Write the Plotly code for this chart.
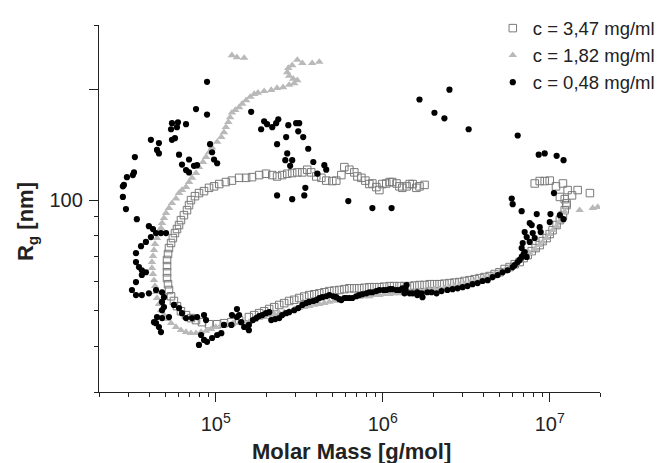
import plotly.graph_objects as go

# ---------------- data ----------------
# c = 3,47 mg/ml  (open squares)
sq_mass = [1.26e7, 1.23e7, 1.20e7, 1.15e7, 1.10e7, 1.04e7, 1.00e7, 9.59e6, 9.08e6, 8.71e6,
           8.24e6, 7.80e6, 7.38e6, 6.98e6, 6.61e6, 6.17e6, 5.75e6, 5.37e6, 5.00e6, 4.68e6,
           4.37e6, 4.07e6, 3.80e6, 3.31e6, 2.88e6, 2.51e6, 2.19e6, 1.91e6, 1.66e6, 1.45e6,
           1.26e6, 1.10e6, 9.55e5, 8.32e5, 7.24e5, 6.31e5, 5.50e5, 4.79e5, 4.17e5, 3.63e5,
           3.16e5, 2.75e5, 2.40e5, 2.09e5, 1.82e5, 1.58e5, 1.38e5, 1.24e5, 1.12e5, 1.02e5,
           9.12e4, 8.28e4, 7.62e4, 7.11e4, 6.64e4, 6.19e4, 5.86e4, 5.62e4, 5.40e4, 5.25e4,
           5.18e4, 5.11e4, 5.11e4, 5.11e4, 5.11e4, 5.18e4, 5.25e4, 5.40e4, 5.54e4, 5.70e4,
           5.86e4, 6.03e4, 6.19e4, 6.45e4, 6.73e4, 6.92e4, 7.11e4, 7.51e4, 7.94e4, 8.51e4,
           9.12e4, 9.77e4, 1.05e5, 1.15e5, 1.25e5, 1.38e5, 1.52e5, 1.65e5, 1.82e5, 2.00e5,
           2.18e5, 2.33e5, 2.50e5, 2.68e5, 2.87e5, 3.08e5, 3.30e5, 3.53e5, 3.73e5, 4.00e5,
           4.29e5, 4.59e5, 4.99e5, 5.27e5, 5.65e5, 5.89e5, 6.31e5, 6.76e5, 7.05e5, 7.45e5,
           7.87e5, 8.32e5, 8.67e5, 9.16e5, 9.55e5, 9.95e5, 1.05e6, 1.10e6, 1.14e6, 1.21e6,
           1.26e6, 1.31e6, 1.39e6, 1.45e6, 1.51e6, 1.59e6, 1.66e6, 1.78e6,
           1.70e5, 1.95e5, 2.24e5, 2.57e5, 2.95e5, 3.39e5, 3.89e5, 4.47e5, 5.13e5, 5.89e5,
           6.76e5, 7.76e5, 8.91e5, 1.02e6, 1.17e6, 1.35e6, 1.55e6, 1.78e6, 2.04e6, 2.34e6,
           2.69e6, 3.09e6, 3.55e6,
           8.13e6, 8.71e6, 9.33e6, 1.00e7, 1.09e7, 1.20e7, 1.28e7, 1.36e7, 1.47e7, 1.74e7,
           1.15e7, 1.23e7, 1.26e7]
sq_rg = [96.9, 93.9, 91.0, 88.2, 85.5, 82.8, 80.8, 78.8, 77.3, 75.4,
         74.0, 72.6, 70.8, 69.5, 67.8, 66.9, 65.7, 64.9, 63.6, 62.9,
         62.1, 61.7, 61.3, 60.5, 59.8, 59.4, 59.0, 59.0, 58.7, 58.3,
         58.3, 58.3, 57.9, 57.9, 57.5, 57.5, 56.9, 56.5, 55.7, 55.1,
         54.1, 53.1, 51.8, 50.5, 49.2, 48.0, 47.1, 46.5, 46.2, 45.9,
         45.9, 46.5, 47.1, 47.7, 48.6, 49.8, 51.4, 53.1, 54.7, 56.9,
         59.0, 61.3, 63.6, 66.1, 68.7, 71.3, 74.0, 76.4, 78.8, 81.3,
         83.4, 85.5, 88.2, 91.0, 93.9, 96.9, 100.0, 102.5, 104.5, 105.8,
         108.0, 109.0, 110.6, 112.0, 113.0, 115.0, 115.0, 115.5, 117.0, 118.0,
         117.0, 116.0, 117.0, 118.0, 118.5, 119.0, 119.0, 121.0, 119.0, 116.0,
         115.0, 113.0, 112.7, 113.0, 117.0, 123.0, 121.0, 119.0, 116.0, 115.0,
         113.0, 110.6, 111.0, 108.5, 106.5, 110.6, 111.0, 112.0, 112.0, 111.0,
         109.0, 108.0, 109.0, 110.6, 110.6, 108.0, 109.0, 110.0,
         48.6, 49.8, 51.1, 52.4, 53.5, 54.6, 55.4, 56.1, 56.7, 57.2,
         57.5, 57.7, 57.9, 58.1, 58.3, 58.3, 58.5, 58.7, 59.0, 59.2,
         59.6, 60.2, 60.9,
         111.0, 112.7, 112.7, 113.0, 109.0, 111.0, 106.5, 103.0, 106.5, 104.5,
         102.0, 100.6, 98.1]

# c = 1,82 mg/ml  (grey triangles)
tri_mass = [1.25e5, 1.34e5, 1.48e5, 3.08e5, 3.30e5, 3.78e5, 4.17e5, 2.87e5, 2.72e5, 2.68e5,
            2.75e5, 2.91e5, 3.08e5, 2.95e5, 2.75e5, 2.53e5, 2.33e5, 2.15e5, 1.95e5, 1.79e5,
            1.70e5, 1.61e5, 1.52e5, 1.44e5, 1.38e5, 1.31e5, 1.25e5, 1.22e5, 1.19e5, 1.15e5,
            1.12e5, 1.08e5, 1.02e5, 9.51e4, 9.12e4, 8.75e4, 8.39e4, 7.94e4, 7.62e4, 7.21e4,
            6.92e4, 6.64e4, 6.28e4, 6.03e4, 5.78e4, 5.47e4, 5.25e4, 5.04e4, 4.90e4, 4.77e4,
            4.70e4, 4.57e4, 4.45e4, 4.33e4, 4.27e4, 4.21e4, 4.15e4, 4.15e4, 4.21e4, 4.27e4,
            4.33e4, 4.39e4, 4.45e4, 4.57e4, 4.70e4, 4.90e4, 5.11e4, 5.40e4, 5.78e4, 6.19e4,
            6.64e4, 7.11e4, 7.62e4, 8.17e4, 8.75e4, 9.38e4, 1.00e5, 1.08e5, 1.17e5, 1.27e5,
            1.38e5, 1.48e5, 1.58e5, 1.70e5, 1.82e5, 1.95e5, 2.09e5, 2.24e5, 2.40e5, 2.57e5,
            2.75e5, 2.95e5, 3.16e5, 3.39e5, 3.63e5, 3.89e5, 4.17e5, 4.47e5, 4.79e5, 5.13e5,
            5.50e5, 5.89e5, 6.31e5, 6.76e5, 7.24e5, 7.76e5, 8.32e5, 8.91e5, 9.55e5, 1.02e6,
            1.10e6, 1.17e6, 1.26e6, 1.35e6, 1.45e6, 1.55e6, 1.66e6, 1.78e6, 1.91e6, 2.04e6,
            2.19e6, 2.34e6, 2.51e6, 2.69e6, 2.88e6, 3.09e6, 3.31e6, 3.55e6, 3.80e6, 4.07e6,
            4.37e6, 4.68e6, 5.00e6, 5.37e6, 5.75e6, 6.17e6, 6.61e6, 7.08e6, 7.59e6, 8.13e6,
            8.71e6, 9.08e6, 9.59e6, 1.00e7, 1.04e7, 1.10e7, 1.15e7, 1.18e7, 1.23e7,
            1.51e7, 1.81e7, 1.94e7]
tri_rg = [248, 245, 244, 241, 236, 236, 238, 233, 229, 223,
          218, 214, 212, 208, 206, 203, 202, 199.5, 198, 196,
          194.5, 191, 187, 183, 179, 176, 173, 168, 163, 158,
          153, 148.5, 144, 139, 135, 131, 127, 123, 118.5, 115,
          112, 108.5, 106.5, 104.5, 101, 98.1, 95.1, 92.2, 89.3, 86.6,
          83.9, 81.3, 78.8, 75.9, 73.1, 70.4, 67.8, 65.3, 62.9, 60.5,
          58.3, 56.1, 54.1, 52.1, 50.1, 48.6, 47.4, 46.2, 45.1, 44.2,
          43.7, 43.4, 43.4, 43.7, 44.0, 44.5, 45.1, 45.7, 45.9, 46.2,
          46.2, 46.2, 46.5, 47.1, 47.7, 48.0, 48.6, 48.9, 49.2, 49.5,
          49.8, 50.5, 50.8, 51.1, 51.4, 51.8, 52.1, 52.4, 52.8, 53.1,
          53.4, 53.7, 54.1, 54.4, 54.4, 54.7, 54.7, 55.1, 55.1, 55.4,
          55.4, 55.7, 55.7, 55.7, 56.1, 56.1, 56.5, 56.5, 56.9, 57.2,
          57.2, 57.5, 57.9, 58.3, 58.7, 59.0, 59.4, 60.2, 60.5, 61.3,
          61.7, 62.9, 63.6, 64.4, 65.7, 66.9, 68.7, 70.4, 71.7, 73.5,
          75.4, 76.9, 78.8, 80.8, 82.8, 84.9, 87.7, 89.9, 92.8,
          93.9, 95.1, 95.7]

# c = 0,48 mg/ml  (black dots)
dot_mass = [8.87e4, 7.62e4, 8.87e4, 1.63e5, 5.47e4, 5.94e4, 6.64e4, 5.40e4, 5.86e4, 4.09e4,
            4.57e4, 5.47e4, 5.70e4, 4.45e4, 4.57e4, 9.25e4, 9.51e4, 9.77e4, 1.02e5, 6.03e4,
            6.92e4, 3.28e4, 6.28e4, 6.64e4, 6.92e4, 7.41e4, 7.73e4, 2.94e4, 3.19e4, 3.24e4,
            2.78e4, 2.78e4, 2.90e4,
            1.95e5, 2.03e5, 1.87e5, 2.18e5, 2.30e5, 2.37e5, 2.72e5, 3.03e5, 3.16e5, 3.12e5,
            2.64e5, 3.34e5, 2.33e5, 3.58e5, 2.68e5, 2.61e5, 2.87e5, 2.79e5, 3.84e5, 4.47e5,
            4.59e5, 4.06e5, 3.44e5, 3.39e5, 2.33e5, 2.87e5,
            6.22e5, 8.67e5, 1.13e6, 1.66e6, 2.51e6, 2.04e6, 2.34e6, 3.27e6, 6.43e6, 8.59e6,
            9.33e6, 1.10e7, 1.21e7, 1.06e7, 5.92e6, 6.00e6,
            6.79e6, 8.36e6, 1.01e7, 1.00e7, 1.15e7, 1.21e7, 7.59e6, 7.80e6, 8.71e6, 8.83e6,
            7.08e6, 8.13e6, 7.91e6, 7.28e6, 7.59e6, 6.89e6, 6.79e6, 7.08e6, 7.28e6, 6.98e6,
            6.79e6, 6.61e6, 6.43e6, 6.17e6, 6.00e6, 5.60e6, 5.22e6, 4.88e6, 4.55e6, 4.25e6,
            3.96e6, 3.70e6, 3.45e6, 3.22e6, 3.01e6, 2.81e6, 2.62e6, 2.44e6, 2.25e6, 2.10e6,
            1.96e6, 1.85e6, 1.73e6, 1.71e6, 1.61e6, 1.61e6, 1.51e6, 1.45e6, 1.35e6, 1.37e6,
            1.39e6, 1.31e6, 1.26e6, 1.21e6, 1.14e6, 1.10e6, 1.05e6, 1.01e6, 9.55e5, 9.16e5,
            8.67e5, 8.32e5, 7.98e5, 7.55e5, 7.24e5, 6.95e5, 6.58e5, 6.31e5, 6.05e5, 5.89e5,
            5.65e5, 5.50e5, 5.27e5, 5.06e5, 4.79e5, 4.59e5, 4.35e5, 4.17e5, 4.00e5, 3.84e5,
            3.63e5, 3.48e5, 3.30e5, 3.12e5, 2.95e5, 2.75e5, 2.64e5, 2.50e5, 2.40e5, 2.27e5,
            2.15e5, 2.09e5, 2.00e5, 1.90e5, 1.82e5, 1.75e5, 1.67e5, 1.58e5, 1.58e5,
            2.82e4, 3.37e4, 3.98e4, 4.21e4, 4.39e4, 4.70e4, 5.04e4, 4.09e4, 3.82e4, 3.57e4,
            3.33e4, 3.33e4, 3.47e4, 3.61e4, 3.82e4, 3.61e4, 3.33e4, 3.15e4, 3.33e4, 3.61e4,
            3.98e4, 4.39e4, 4.77e4, 4.90e4, 4.77e4, 4.90e4, 4.77e4, 5.62e4, 6.03e4, 6.28e4,
            6.64e4, 7.21e4, 7.73e4, 8.51e4, 8.75e4, 4.45e4, 4.77e4, 4.39e4, 4.57e4, 4.70e4,
            5.25e4, 8.17e4, 8.51e4, 7.94e4, 8.87e4, 9.51e4, 1.02e5, 1.08e5, 1.12e5, 1.24e5,
            1.25e5, 1.34e5, 1.34e5, 1.42e5, 1.48e5, 1.38e5, 4.27e4]
dot_rg = [210, 177, 171, 174, 162, 163, 161, 156, 158, 146,
          143, 146, 147.5, 137, 134, 142, 135, 129, 126, 133,
          129, 131, 125, 120.7, 119, 124, 124.5, 115.5, 117, 119,
          109, 102, 94.5,
          164, 161, 156, 158, 162, 166, 160, 162, 162, 154,
          148.5, 148.5, 142, 138, 134, 128.5, 128.5, 124, 127, 124.5,
          121, 118, 108, 103, 103, 100.6,
          99.4, 95.1, 95.1, 188, 200, 173, 167, 156, 150, 133,
          134, 132, 128.5, 104.5, 101, 97.5,
          93.3, 91.6, 91.6, 87.1, 91.0, 88.7, 86.6, 85.5, 84.4, 81.8,
          81.8, 78.8, 81.3, 79.3, 76.9, 76.4, 74.0, 72.2, 70.0, 71.3,
          70.0, 68.7, 67.8, 66.5, 65.7, 64.4, 63.6, 62.5, 61.7, 60.5,
          60.2, 59.4, 59.0, 58.3, 57.9, 57.5, 57.2, 56.9, 56.5, 55.7,
          56.1, 56.1, 54.4, 55.7, 55.1, 56.1, 55.7, 55.7, 55.7, 56.9,
          58.7, 57.5, 56.9, 56.9, 57.2, 57.2, 56.9, 56.9, 56.9, 56.5,
          56.1, 56.1, 55.7, 55.4, 55.1, 54.7, 54.1, 54.1, 54.1, 54.1,
          53.4, 53.7, 54.4, 54.7, 55.1, 54.7, 54.4, 54.1, 53.4, 53.1,
          52.8, 52.4, 51.8, 50.8, 50.1, 49.5, 49.2, 48.6, 47.7, 47.4,
          47.1, 49.5, 49.2, 48.6, 48.3, 47.7, 47.1, 45.7, 44.2,
          110, 88.7, 84.9, 83.4, 81.3, 81.3, 81.3, 79.3, 76.9, 74.9,
          71.7, 67.8, 65.7, 64.4, 63.6, 62.5, 59.8, 56.9, 55.1, 55.1,
          55.7, 56.9, 56.1, 54.4, 52.8, 51.1, 50.1, 51.8, 50.8, 49.2,
          47.7, 47.7, 48.0, 48.6, 47.1, 48.0, 47.7, 46.2, 45.1, 43.7,
          48.0, 42.9, 41.6, 40.3, 41.1, 42.1, 42.9, 43.4, 45.7, 45.7,
          48.6, 50.5, 48.0, 46.5, 45.1, 48.6, 46.5]

series_names = ["c = 3,47 mg/ml", "c = 1,82 mg/ml", "c = 0,48 mg/ml"]

x_major = [1e5, 1e6, 1e7]
x_major_text = ["10<sup>5</sup>", "10<sup>6</sup>", "10<sup>7</sup>"]
x_minor = [2e4, 3e4, 4e4, 5e4, 6e4, 7e4, 8e4, 9e4,
           2e5, 3e5, 4e5, 5e5, 6e5, 7e5, 8e5, 9e5,
           2e6, 3e6, 4e6, 5e6, 6e6, 7e6, 8e6, 9e6, 2e7]
y_major = [100, 200]
y_major_text = ["100", ""]
y_minor = [30, 40, 50, 60, 70, 80, 90, 300]

FONT = "Arial, 'Liberation Sans', Helvetica, sans-serif"
INK = "#222222"

fig = go.Figure()
fig.add_trace(go.Scatter(
    x=sq_mass, y=sq_rg, mode="markers", name=series_names[0],
    marker=dict(symbol="square-open", size=7.5, color="#7a7a7a", line=dict(width=1))))
fig.add_trace(go.Scatter(
    x=tri_mass, y=tri_rg, mode="markers", name=series_names[1],
    marker=dict(symbol="triangle-up", size=7.5, color="#b9b9b9", line=dict(width=0))))
fig.add_trace(go.Scatter(
    x=dot_mass, y=dot_rg, mode="markers", name=series_names[2],
    marker=dict(symbol="circle", size=6.2, color="#000000", line=dict(width=0))))

axis_common = dict(
    showgrid=False, zeroline=False, showline=True, linecolor=INK, linewidth=1.3,
    ticks="outside", ticklen=9, tickwidth=1.3, tickcolor=INK,
    tickfont=dict(family=FONT, size=20, color=INK), mirror=False)

fig.update_xaxes(
    type="log", range=[4.30103, 7.30103], tickmode="array",
    tickvals=x_major, ticktext=x_major_text, ticklabelstandoff=5,
    minor=dict(tickmode="array", tickvals=x_minor, ticks="outside", ticklen=4,
               tickwidth=1.3, tickcolor=INK, showgrid=False),
    **axis_common)
fig.update_yaxes(
    type="log", range=[1.47712, 2.47712], tickmode="array",
    tickvals=y_major, ticktext=y_major_text, ticklabelstandoff=2,
    minor=dict(tickmode="array", tickvals=y_minor, ticks="outside", ticklen=4,
               tickwidth=1.3, tickcolor=INK, showgrid=False),
    **axis_common)

fig.update_layout(
    width=658, height=463,
    margin=dict(l=99, r=58, t=25, b=71, autoexpand=False),
    paper_bgcolor="white", plot_bgcolor="white",
    font=dict(family=FONT, color=INK),
    showlegend=True,
    legend=dict(x=0.786, xanchor="left", y=1.042, yanchor="top",
                font=dict(family=FONT, size=18.5, color=INK),
                bgcolor="rgba(0,0,0,0)", borderwidth=0, tracegroupgap=0),
    annotations=[
        dict(text="<b>Molar Mass [g/mol]</b>", xref="paper", yref="paper",
             x=0.5, y=0, xanchor="center", yanchor="middle", xshift=2, yshift=-59,
             showarrow=False, font=dict(family=FONT, size=22, color=INK)),
        dict(text="<b>R<sub>g</sub> [nm]</b>", xref="paper", yref="paper",
             x=0, y=0.463, xanchor="center", yanchor="middle", xshift=-72,
             textangle=-90, showarrow=False,
             font=dict(family=FONT, size=22, color=INK)),
    ],
)

fig.write_html("out.html", config={"displayModeBar": False})
